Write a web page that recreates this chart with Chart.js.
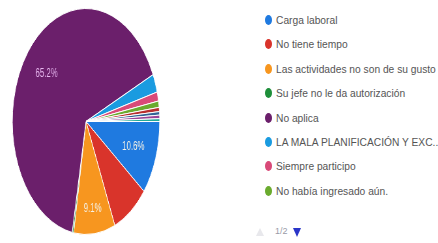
<!DOCTYPE html>
<html>
<head>
<meta charset="utf-8">
<script src="https://cdn.jsdelivr.net/npm/chart.js@4"></script>
<style>
  body { margin: 0; background: #fff; width: 438px; height: 243px; overflow: hidden; position: relative; font-family: "Liberation Sans", Arial, sans-serif; }
  #pie { position: absolute; left: 11px; top: 0; transform: scaleX(0.652); transform-origin: 0 0; }
  #legend { position: absolute; left: 264px; top: 0; margin: 0; padding: 0; list-style: none; }
  #legend li { position: absolute; left: 0; height: 14px; white-space: nowrap; font-size: 11px; color: #555; line-height: 14px; }
  #legend .dot { position: absolute; left: 1px; top: 2px; width: 7px; height: 10px; border-radius: 50%; }
  #legend .txt { position: absolute; left: 12px; top: 0; transform: scaleX(0.93); transform-origin: 0 50%; }
  #pager { position: absolute; left: 256px; top: 226px; font-size: 9px; color: #9a9aa8; }
</style>
</head>
<body>
<canvas id="pie" width="230" height="243"></canvas>
<ul id="legend"></ul>
<div id="pager">
  <span style="position:absolute;left:0;top:2px;width:0;height:0;border-left:4px solid transparent;border-right:4px solid transparent;border-bottom:8px solid #e8e8ec;"></span>
  <span style="position:absolute;left:19px;top:0;">1/2</span>
  <span style="position:absolute;left:37px;top:2px;width:0;height:0;border-left:4px solid transparent;border-right:4px solid transparent;border-top:9px solid #2a35c8;"></span>
</div>
<script>
// Respuestas (porcentajes)
const categorias = [
  'Carga laboral',
  'No tiene tiempo',
  'Las actividades no son de su gusto',
  'Su jefe no le da autorización',
  'No aplica',
  'LA MALA PLANIFICACIÓN Y EXC...',
  'Siempre participo',
  'No había ingresado aún.',
  'Otro 1',
  'Otro 2',
  'Otro 3',
  'Otro 4'
];
const porcentajes = [10.6, 8.0, 9.1, 0.3, 65.2, 2.6, 1.3, 0.9, 0.6, 0.5, 0.5, 0.4];
const colores = ['#1f7ae0', '#d9342b', '#f7961f', '#1e8f3a', '#6b1f6b', '#1a9be0', '#d94a78', '#6aab2e',
                 '#b82e2e', '#316395', '#994499', '#22aa99'];
const legendaVisible = 8; // página 1 de 2

// Etiquetas de porcentaje dentro de las porciones grandes
const etiquetas = {
  id: 'etiquetas',
  afterDatasetsDraw(chart) {
    const ctx = chart.ctx;
    const meta = chart.getDatasetMeta(0);
    ctx.save();
    ctx.font = '12px "Liberation Sans", Arial, sans-serif';
    ctx.textAlign = 'center';
    ctx.textBaseline = 'middle';
    meta.data.forEach((arc, i) => {
      const v = porcentajes[i];
      if (v < 9) return;
      const mid = (arc.startAngle + arc.endAngle) / 2;
      // las porciones estrechas llevan la etiqueta más hacia fuera
      const r = arc.outerRadius * (v < 10 ? 0.78 : 0.68);
      ctx.fillStyle = v > 50 ? '#e8b8f0' : '#f4f1e6';
      ctx.fillText(v.toFixed(1) + '%', arc.x + Math.cos(mid) * r, arc.y + Math.sin(mid) * r);
    });
    ctx.restore();
  }
};

new Chart(document.getElementById('pie'), {
  type: 'pie',
  data: {
    labels: categorias,
    datasets: [{
      data: porcentajes,
      backgroundColor: colores,
      borderColor: '#ffffff',
      borderWidth: 1
    }]
  },
  options: {
    responsive: false,
    devicePixelRatio: 1,
    animation: false,
    rotation: 90,
    layout: { padding: { top: 8, bottom: 8 } },
    plugins: { legend: { display: false }, tooltip: { enabled: false } }
  },
  plugins: [etiquetas]
});

// Leyenda (primera página)
const ul = document.getElementById('legend');
categorias.slice(0, legendaVisible).forEach((c, i) => {
  const li = document.createElement('li');
  li.style.top = (13 + i * 24.4) + 'px';
  li.innerHTML = '<span class="dot" style="background:' + colores[i] + '"></span><span class="txt">' + c + '</span>';
  ul.appendChild(li);
});
</script>
</body>
</html>
